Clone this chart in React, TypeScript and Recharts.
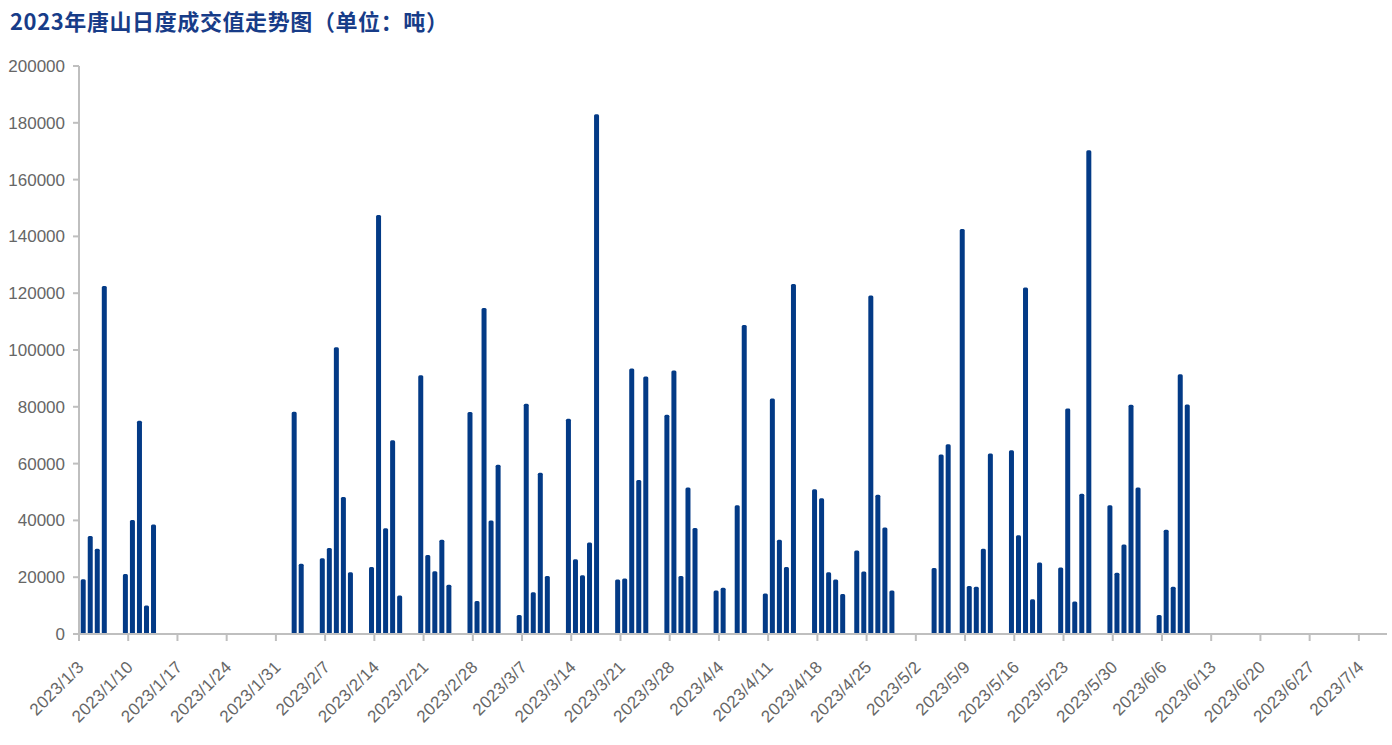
import React from 'react';
import { BarChart, Bar, XAxis, YAxis } from 'recharts';

const dates: string[] = [
  '1/3', '1/4', '1/5', '1/6',
  '1/9', '1/10', '1/11', '1/12', '1/13',
  '2/2', '2/3',
  '2/6', '2/7', '2/8', '2/9', '2/10',
  '2/13', '2/14', '2/15', '2/16', '2/17',
  '2/20', '2/21', '2/22', '2/23', '2/24',
  '2/27', '2/28', '3/1', '3/2', '3/3',
  '3/6', '3/7', '3/8', '3/9', '3/10',
  '3/13', '3/14', '3/15', '3/16', '3/17',
  '3/20', '3/21', '3/22', '3/23', '3/24',
  '3/27', '3/28', '3/29', '3/30', '3/31',
  '4/3', '4/4', '4/6', '4/7',
  '4/10', '4/11', '4/12', '4/13', '4/14',
  '4/17', '4/18', '4/19', '4/20', '4/21',
  '4/23', '4/24', '4/25', '4/26', '4/27', '4/28',
  '5/4', '5/5', '5/6',
  '5/8', '5/9', '5/10', '5/11', '5/12',
  '5/15', '5/16', '5/17', '5/18', '5/19',
  '5/22', '5/23', '5/24', '5/25', '5/26',
  '5/29', '5/30', '5/31', '6/1', '6/2',
  '6/5', '6/6', '6/7', '6/8', '6/9',
];

const volumes: number[] = [
  19300, 34500, 30000, 122500,
  21100, 40100, 75100, 10000, 38600,
  78300, 24700,
  26700, 30300, 101000, 48200, 21700,
  23600, 147500, 37200, 68200, 13600,
  91100, 27800, 22100, 33200, 17300,
  78200, 11600, 114800, 40000, 59600,
  6700, 81100, 14700, 56800, 20400,
  75800, 26300, 20700, 32200, 183000,
  19200, 19500, 93500, 54200, 90700,
  77200, 92800, 20400, 51600, 37300,
  15300, 16300, 45300, 108800,
  14300, 82900, 33200, 23600, 123200,
  51000, 47800, 21700, 19200, 14100,
  29400, 22000, 119200, 49000, 37500, 15300,
  23200, 63200, 66800,
  142600, 16900, 16600, 30000, 63600,
  64700, 34800, 122000, 12200, 25200,
  23400, 79400, 11400, 49400, 170300,
  45300, 21600, 31500, 80700, 51600,
  6700, 36700, 16600, 91500, 80800,
];

const xTickLabels: string[] = [
  '2023/1/3', '2023/1/10', '2023/1/17', '2023/1/24', '2023/1/31',
  '2023/2/7', '2023/2/14', '2023/2/21', '2023/2/28',
  '2023/3/7', '2023/3/14', '2023/3/21', '2023/3/28',
  '2023/4/4', '2023/4/11', '2023/4/18', '2023/4/25',
  '2023/5/2', '2023/5/9', '2023/5/16', '2023/5/23', '2023/5/30',
  '2023/6/6', '2023/6/13', '2023/6/20', '2023/6/27', '2023/7/4',
];

const yTicks: number[] = [0, 20000, 40000, 60000, 80000, 100000, 120000, 140000, 160000, 180000, 200000];

const DAY = 86400000;
const START = Date.UTC(2023, 0, 3);

const dayIndex = (s: string) => {
  const [m, d] = s.split('/').map(Number);
  return Math.round((Date.UTC(2023, m - 1, d) - START) / DAY);
};

const data = dates.map((s, i) => ({ x: dayIndex(s) + 0.6, v: volumes[i] }));
const xTicks = xTickLabels.map((lab) => dayIndex(lab.slice(5)));
const labelByTick: Record<number, string> = {};
xTickLabels.forEach((lab, i) => { labelByTick[xTicks[i]] = lab; });

const AXIS = '#BFBFBF';
const LABEL = '#666666';
const BAR = '#033A86';

const XTick = (props: any) => {
  const { x, y, payload } = props;
  return (
    <g transform={`translate(${x + 6},${y + 27})`}>
      <text
        x={0}
        y={0}
        textAnchor="end"
        transform="rotate(-45)"
        fill={LABEL}
        fontSize={17}
        letterSpacing={0.3}
        fontFamily="'Liberation Sans', Arial, sans-serif"
      >
        {labelByTick[payload.value] ?? ''}
      </text>
    </g>
  );
};

export default function App() {
  return (
    <div style={{ position: 'absolute', left: 0, top: 0, width: 1392, height: 745, background: '#fff' }}>
      <div
        style={{
          position: 'absolute',
          left: 10,
          top: 5,
          fontFamily: "'Noto Sans CJK SC', sans-serif",
          fontWeight: 700,
          fontSize: 22,
          letterSpacing: '0.6px',
          lineHeight: '30px',
          color: '#173C88',
          whiteSpace: 'nowrap',
        }}
      >
        2023年唐山日度成交值走势图（单位：吨）
      </div>
      <BarChart
        width={1392}
        height={745}
        data={data}
        margin={{ top: 66, right: 5, left: 0, bottom: 11 }}
      >
        <XAxis
          dataKey="x"
          type="number"
          domain={[0, 186]}
          ticks={xTicks}
          interval={0}
          allowDataOverflow
          height={100}
          tickSize={7}
          tickMargin={0}
          axisLine={{ stroke: AXIS, strokeWidth: 2 }}
          tickLine={{ stroke: AXIS, strokeWidth: 2 }}
          tick={<XTick />}
        />
        <YAxis
          type="number"
          domain={[0, 200000]}
          ticks={yTicks}
          interval={0}
          width={79}
          tickSize={6}
          tickMargin={8}
          axisLine={{ stroke: AXIS, strokeWidth: 2 }}
          tickLine={{ stroke: AXIS, strokeWidth: 2 }}
          tick={{ fill: LABEL, fontSize: 17, fontFamily: "'Liberation Sans', Arial, sans-serif" }}
        />
        <Bar dataKey="v" fill={BAR} barSize={5} radius={[1.5, 1.5, 0, 0]} isAnimationActive={false} />
      </BarChart>
    </div>
  );
}
